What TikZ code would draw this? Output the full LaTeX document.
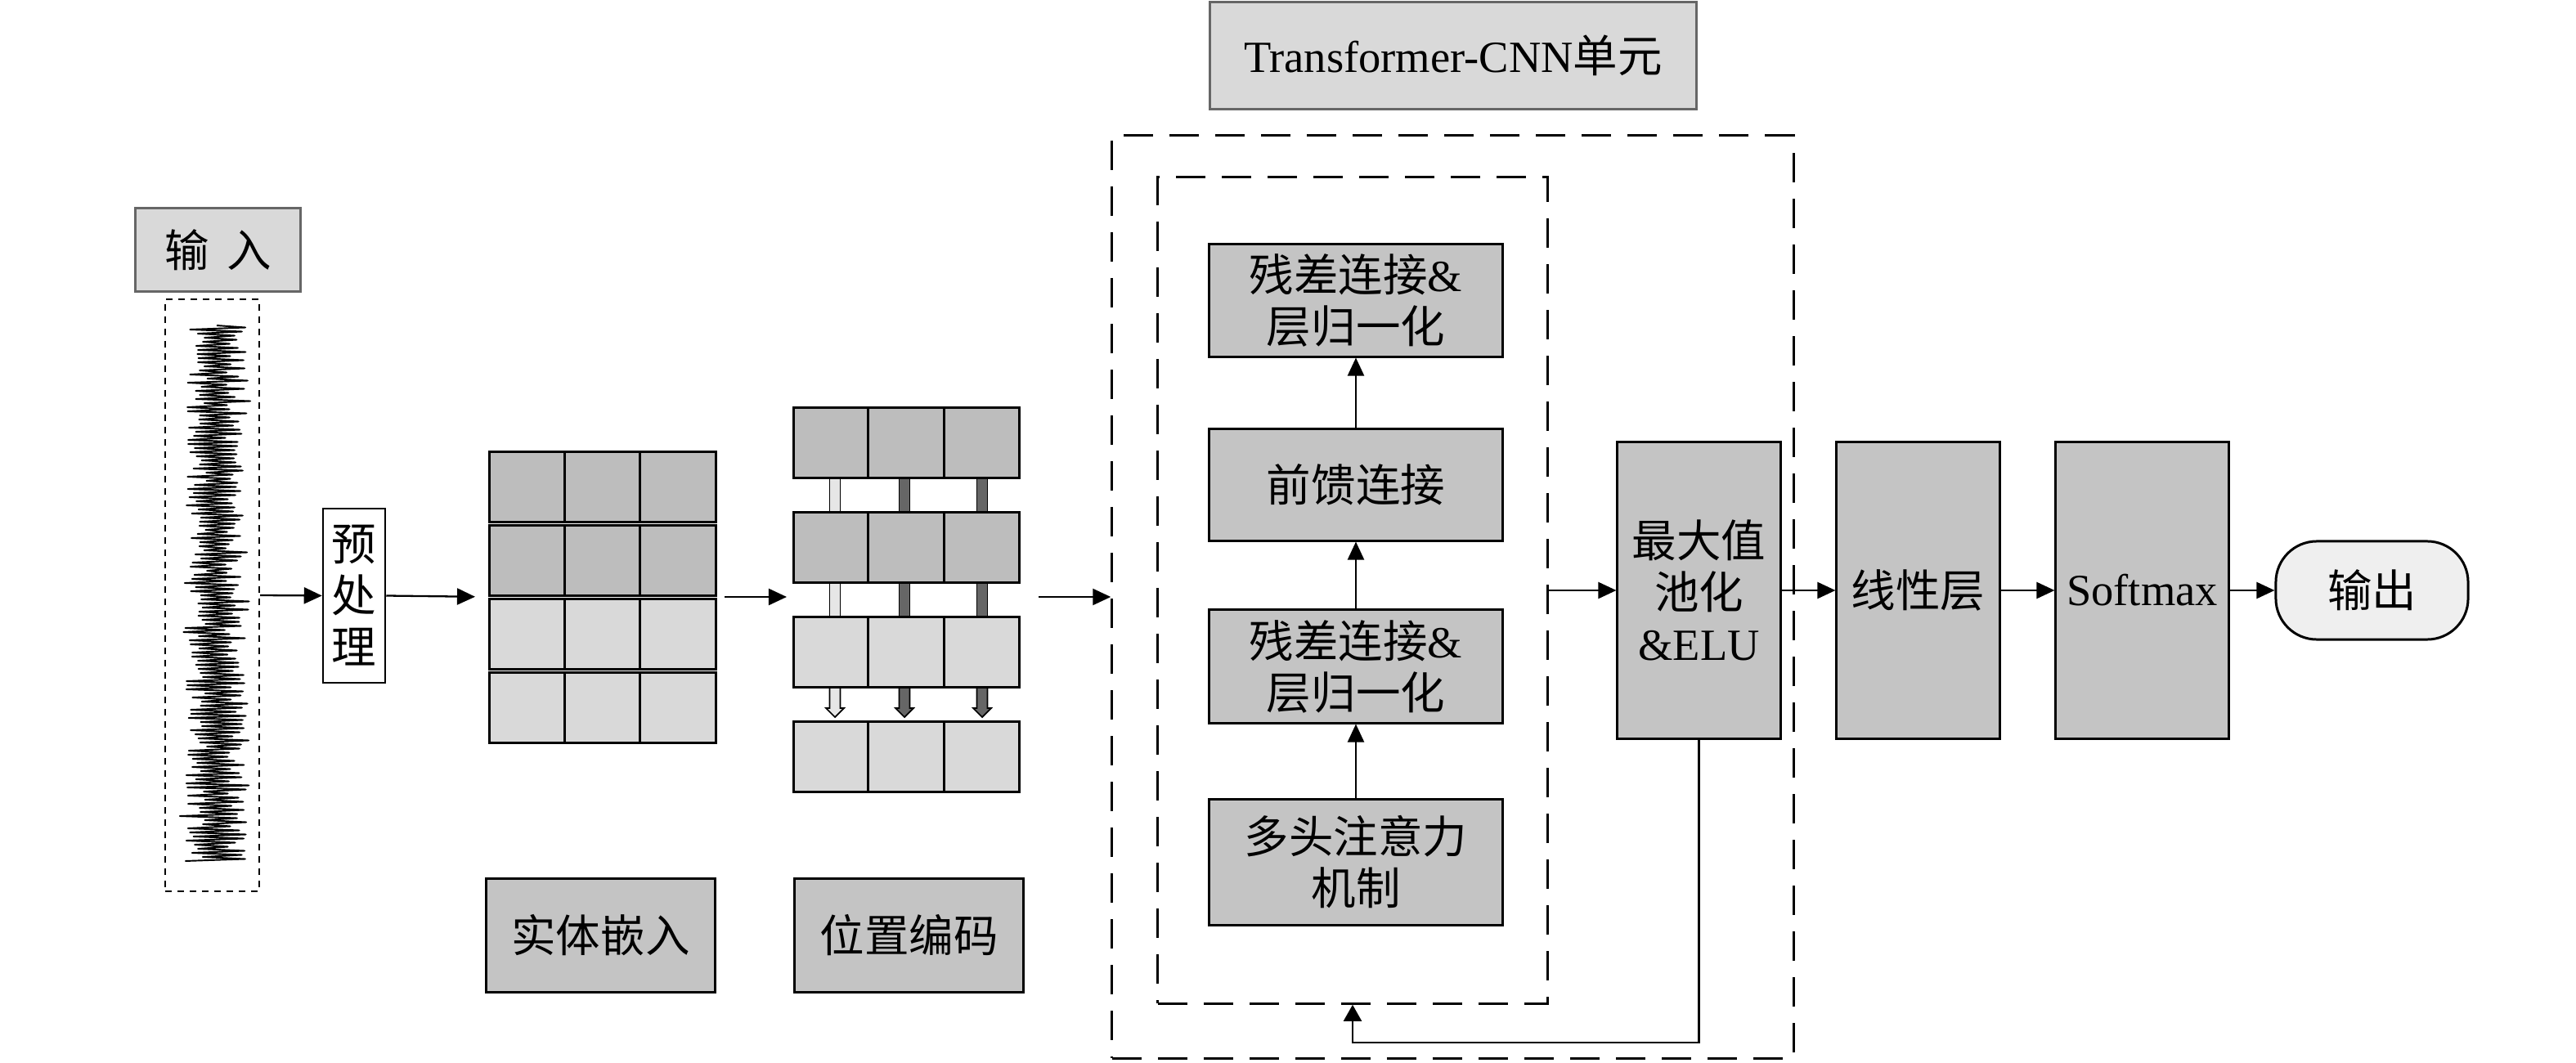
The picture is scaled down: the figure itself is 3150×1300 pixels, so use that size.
\documentclass[tikz,border=0pt]{standalone}
\usepackage{fontspec}
\setmainfont{Liberation Serif}
\newfontfamily\cjk{Noto Sans CJK SC}
\usetikzlibrary{arrows.meta}
\definecolor{boxgray}{HTML}{C4C4C4}
\definecolor{darkcell}{HTML}{BDBDBD}
\definecolor{lightcell}{HTML}{D9D9D9}
\definecolor{titlegray}{HTML}{D9D9D9}
\definecolor{framegray}{HTML}{666666}
\definecolor{outfill}{HTML}{EFEFEF}
\definecolor{barlight}{HTML}{E6E6E6}
\definecolor{bardark}{HTML}{666666}
\newcommand\fs{\fontsize{15.5pt}{17.9pt}\selectfont}
\begin{document}
\begin{tikzpicture}[x=0.01cm, y=-0.01cm,
  box/.style={draw, line width=0.85pt, fill=boxgray, align=center, inner sep=0pt},
  cell/.style={draw, line width=0.85pt, minimum width=0.92cm, minimum height=0.85cm, inner sep=0pt},
  arr/.style={line width=0.65pt, -{Triangle[length=0.22cm,width=0.2cm]}},
  dashbox/.style={draw, line width=0.85pt, dash pattern=on 0.36cm off 0.2cm, inner sep=0pt},
  titlebox/.style={draw=framegray, line width=0.85pt, fill=titlegray, inner sep=0pt}]
\useasboundingbox (0,0) rectangle (3150,1300);

% ---- input ----
\node[titlebox, minimum width=2.01cm, minimum height=1.01cm, font=\fs\cjk] (inp) at (266.5,305.5) {输\hspace{0.4em}入};
\node[draw, line width=0.6pt, dash pattern=on 0.08cm off 0.07cm, minimum width=1.15cm, minimum height=7.24cm, inner sep=0pt] (sig) at (259.5,728) {};
\pgfmathsetseed{42}
\draw[line width=0.55pt, line join=round] (265,398)
  \foreach \i in {1,...,262}{ -- ({265+(2*mod(\i,2)-1)*(9+26*rnd+12*rnd*rnd)}, {398+\i*2.5}) };

\node[draw, line width=0.7pt, fill=white, minimum width=0.76cm, minimum height=2.13cm, align=center, inner sep=0pt, font=\fs\cjk] (pre) at (433,728.5) {预\\处\\理};

% ---- grid 1 ----
\foreach \r/\cy/\col in {1/595.5/darkcell, 2/685.5/darkcell, 3/775.5/lightcell, 4/865.5/lightcell}
  \foreach \c/\cx in {1/645,2/737,3/829}
    \node[cell, fill=\col] (g1-\r-\c) at (\cx,\cy) {};
\coordinate (g1w) at (599,730);
\coordinate (g1e) at (875,730);

% ---- grid 2 ----
\foreach \bx/\bc in {1021/barlight,1106/bardark,1201/bardark}{
  \foreach \ya/\yb in {584/627,712/755}
    \draw[line width=0.5pt, fill=\bc] (\bx-6.5,\ya) rectangle (\bx+6.5,\yb);
  \draw[line width=0.5pt, fill=\bc] (\bx-6.5,840) -- (\bx-6.5,866) -- (\bx-11,866) -- (\bx,877) -- (\bx+11,866) -- (\bx+6.5,866) -- (\bx+6.5,840);
}
\foreach \r/\cy/\col in {1/541.5/darkcell, 2/669.5/darkcell, 3/797.5/lightcell, 4/925.5/lightcell}
  \foreach \c/\cx in {1/1016.5,2/1108,3/1200.5}
    \node[cell, fill=\col] (g2-\r-\c) at (\cx,\cy) {};
\coordinate (g2w) at (971,730);
\coordinate (g2e) at (1247,730);

% ---- bottom labels ----
\node[box, minimum width=2.79cm, minimum height=1.38cm, font=\fs\cjk] (emb) at (734.5,1144) {实体嵌入};
\node[box, minimum width=2.79cm, minimum height=1.38cm, font=\fs\cjk] (pos) at (1111.5,1144) {位置编码};

% ---- transformer unit ----
\node[titlebox, minimum width=5.94cm, minimum height=1.30cm, font=\fs] (title) at (1777,68) {Transformer-CNN{\cjk 单元}};
\node[dashbox, minimum width=8.33cm, minimum height=11.28cm] (outer) at (1776.5,730) {};
\node[dashbox, minimum width=4.76cm, minimum height=10.10cm] (inner) at (1654,722) {};

\node[box, minimum width=3.58cm, minimum height=1.37cm, font=\fs\cjk] (rn2) at (1658,367.5) {残差连接{\rmfamily\&}\\层归一化};
\node[box, minimum width=3.58cm, minimum height=1.36cm, font=\fs\cjk] (ff) at (1658,593) {前馈连接};
\node[box, minimum width=3.58cm, minimum height=1.38cm, font=\fs\cjk] (rn1) at (1658,815) {残差连接{\rmfamily\&}\\层归一化};
\node[box, minimum width=3.58cm, minimum height=1.53cm, font=\fs\cjk] (mha) at (1658,1054.5) {多头注意力\\机制};

\draw[arr] (mha.north) -- (rn1.south);
\draw[arr] (rn1.north) -- (ff.south);
\draw[arr] (ff.north) -- (rn2.south);

% ---- right part ----
\node[box, minimum width=1.99cm, minimum height=3.62cm, font=\fs\cjk] (mp) at (2077.5,722) {最大值\\池化\\{\rmfamily\&ELU}};
\node[box, minimum width=1.99cm, minimum height=3.62cm, font=\fs\cjk] (lin) at (2345.5,722) {线性层};
\node[box, minimum width=2.11cm, minimum height=3.62cm, font=\fs] (sm) at (2619.5,722) {Softmax};
\node[draw, line width=0.85pt, fill=outfill, rounded corners=0.5cm, minimum width=2.35cm, minimum height=1.2cm, inner sep=0pt, font=\fs\cjk] (out) at (2900.5,722) {输出};

% ---- connectors ----
\draw[arr] (sig.east) -- (pre.west);
\draw[arr, shorten >=0.18cm] (pre.east) -- (g1w);
\draw[arr, shorten <=0.11cm, shorten >=0.09cm] (g1e) -- (g2w);
\draw[arr, shorten <=0.23cm] (g2e) -- (outer.west);
\draw[arr] (inner.east) -- (mp.west);
\draw[arr] (mp.east) -- (lin.west);
\draw[arr] (lin.east) -- (sm.west);
\draw[arr] (sm.east) -- (out.west);
\coordinate (fb) at (2077.5,1275);
\draw[line width=0.6pt, -{Triangle[length=0.2cm,width=0.22cm]}] (mp.south) -- (fb) -| (inner.south);
\end{tikzpicture}
\end{document}
